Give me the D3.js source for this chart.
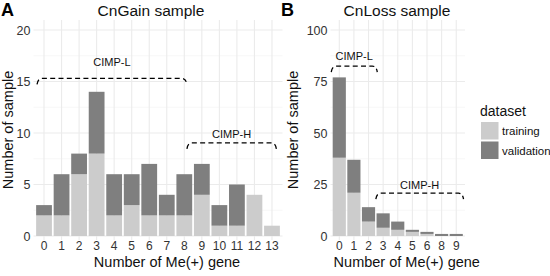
<!DOCTYPE html>
<html>
<head>
<meta charset="utf-8">
<script src="https://cdn.jsdelivr.net/npm/d3@7/dist/d3.min.js"></script>
<style>
  html, body { margin: 0; padding: 0; background: #fff; }
  svg { display: block; font-family: "Liberation Sans", Arial, Helvetica, sans-serif; }
</style>
</head>
<body>
<svg id="chart" width="550" height="276"></svg>
<script>
// ---- data ----
const gainCategories = ["0","1","2","3","4","5","6","7","8","9","10","11","12","13"];
const gainTraining   = [2, 2, 6, 8, 2, 3, 2, 2, 2, 4, 1, 1, 4, 1];
const gainValidation = [1, 4, 2, 6, 4, 3, 5, 2, 4, 3, 2, 4, 0, 0];
const gainYTicks = [0, 5, 10, 15, 20];

const lossCategories = ["0","1","2","3","4","5","6","8","9"];
const lossTraining   = [38, 21, 7, 4, 3, 2, 1, 0, 0];
const lossValidation = [39, 16, 7, 7, 4, 1, 1, 1, 1];
const lossYTicks = [0, 25, 50, 75, 100];

const seriesNames = ["training", "validation"];
const seriesColors = ["#cccccc", "#7f7f7f"];

// bracket annotations (x in category-index units, y in data units)
const gainBrackets = [
  { label: "CIMP-L", x0: -0.4, x1: 8.15, level: 15.3, labelY: 16.9 },
  { label: "CIMP-H", x0: 8.15, x1: 13.25, level: 9.05, labelY: 9.9 }
];
const lossBrackets = [
  { label: "CIMP-L", x0: -0.55, x1: 2.6, level: 82.5, labelY: 87.5 },
  { label: "CIMP-H", x0: 2.5, x1: 8.5, level: 20.8, labelY: 24.8 }
];

const svg = d3.select("#chart");

function panel(opts) {
  const { cats, train, valid, yTicks, yMax, left, right, top, bottom,
          letter, letterX, title, titleX, yTitleX, brackets } = opts;
  const g = svg.append("g");
  const y = d3.scaleLinear().domain([0, yMax]).range([236, 30]);
  const x = d3.scaleBand().domain(cats).range([left, right])
    .paddingInner(0.1).paddingOuter(0.15);
  const step = x.step();
  const xc = i => x(cats[0]) + x.bandwidth() / 2 + i * step;

  // minor grid
  const minor = [];
  for (let i = 0; i < yTicks.length - 1; i++) minor.push((yTicks[i] + yTicks[i + 1]) / 2);
  g.selectAll(".ymin").data(minor).enter().append("line")
    .attr("x1", left).attr("x2", right)
    .attr("y1", d => y(d)).attr("y2", d => y(d))
    .attr("stroke", "#f2f2f2").attr("stroke-width", 0.6);
  // major grid
  g.selectAll(".ymaj").data(yTicks).enter().append("line")
    .attr("x1", left).attr("x2", right)
    .attr("y1", d => y(d)).attr("y2", d => y(d))
    .attr("stroke", "#ebebeb").attr("stroke-width", 1.1);
  g.selectAll(".xmaj").data(cats).enter().append("line")
    .attr("x1", d => x(d) + x.bandwidth() / 2).attr("x2", d => x(d) + x.bandwidth() / 2)
    .attr("y1", top).attr("y2", bottom)
    .attr("stroke", "#ebebeb").attr("stroke-width", 1.1);

  // stacked bars
  const rows = cats.map((c, i) => ({ cat: c, training: train[i], validation: valid[i] }));
  const stacked = d3.stack().keys(seriesNames)(rows);
  stacked.forEach((layer, li) => {
    g.selectAll(".bar" + li).data(layer).enter().append("rect")
      .attr("x", d => x(d.data.cat))
      .attr("width", x.bandwidth())
      .attr("y", d => y(d[1]))
      .attr("height", d => Math.max(0, y(d[0]) - y(d[1])))
      .attr("fill", seriesColors[li]);
  });

  // y axis labels
  const ya = g.append("g").attr("transform", `translate(${left},0)`)
    .call(d3.axisLeft(y).tickValues(yTicks).tickSize(0).tickPadding(3));
  ya.select(".domain").remove();
  ya.selectAll("text").attr("font-size", 12.5).attr("fill", "#333")
    .attr("font-family", "Liberation Sans, Arial, sans-serif");

  // x axis labels
  const xa = g.append("g").attr("transform", `translate(0,${bottom})`)
    .call(d3.axisBottom(x).tickSize(0).tickPadding(1));
  xa.select(".domain").remove();
  xa.selectAll("text").attr("font-size", 12).attr("fill", "#333")
    .attr("font-family", "Liberation Sans, Arial, sans-serif");

  // axis titles
  g.append("text").attr("x", (left + right) / 2 + 9).attr("y", 267)
    .attr("text-anchor", "middle").attr("font-size", 14.5).attr("fill", "#111")
    .text("Number of Me(+) gene");
  g.append("text").attr("transform", `translate(${yTitleX},${(top + bottom) / 2}) rotate(-90)`)
    .attr("text-anchor", "middle").attr("font-size", 14.5).attr("fill", "#111")
    .text("Number of sample");

  // titles
  g.append("text").attr("x", letterX).attr("y", 16).attr("font-size", 18)
    .attr("font-weight", "bold").attr("fill", "#000").text(letter);
  g.append("text").attr("x", titleX).attr("y", 16).attr("text-anchor", "middle")
    .attr("font-size", 15.5).attr("fill", "#111").text(title);

  // brackets
  brackets.forEach(b => {
    const x0 = xc(b.x0), x1 = xc(b.x1), yl = y(b.level);
    const drop = 6;
    const path = `M${x0},${yl + drop} Q${x0 + 1},${yl} ${x0 + 5},${yl} L${x1 - 5},${yl} Q${x1 - 1},${yl} ${x1},${yl + drop}`;
    g.append("path").attr("d", path).attr("fill", "none")
      .attr("stroke", "#000").attr("stroke-width", 1.3)
      .attr("stroke-dasharray", "5,3.3");
    g.append("text").attr("x", (x0 + x1) / 2).attr("y", y(b.labelY) + 4)
      .attr("text-anchor", "middle").attr("font-size", 11).attr("fill", "#111")
      .text(b.label);
  });
}

panel({ cats: gainCategories, train: gainTraining, valid: gainValidation,
  yTicks: gainYTicks, yMax: 20, left: 33.5, right: 282.5, top: 20, bottom: 240,
  letter: "A", letterX: 1, title: "CnGain sample", titleX: 151, yTitleX: 13,
  brackets: gainBrackets });

panel({ cats: lossCategories, train: lossTraining, valid: lossValidation,
  yTicks: lossYTicks, yMax: 100, left: 330.5, right: 465, top: 20, bottom: 240,
  letter: "B", letterX: 281, title: "CnLoss sample", titleX: 397, yTitleX: 298,
  brackets: lossBrackets });

// legend
const lg = svg.append("g");
lg.append("text").attr("x", 480).attr("y", 116).attr("font-size", 14).attr("fill", "#111").text("dataset");
seriesNames.forEach((s, i) => {
  lg.append("rect").attr("x", 481).attr("y", 122 + i * 19.5).attr("width", 17.5).attr("height", 17.5)
    .attr("fill", seriesColors[i]);
  lg.append("text").attr("x", 502).attr("y", 135 + i * 19.5).attr("font-size", 11.5)
    .attr("fill", "#111").text(s);
});
</script>
</body>
</html>
